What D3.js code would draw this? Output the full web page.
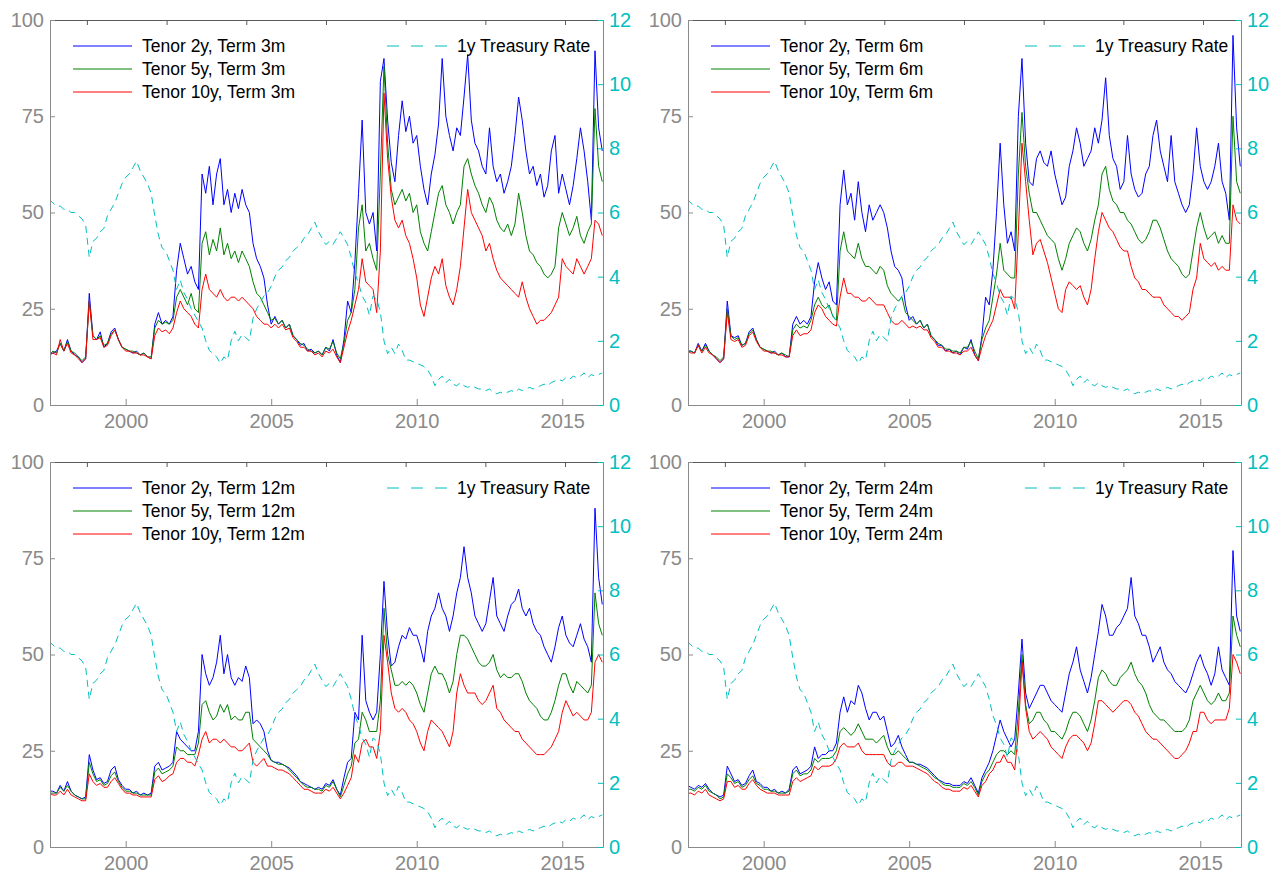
<!DOCTYPE html>
<html>
<head>
<meta charset="utf-8">
<script src="https://cdn.jsdelivr.net/npm/d3@7"></script>
<style>
  body { margin: 0; background: #fff; }
  svg text { font-family: "Liberation Sans", Arial, sans-serif; }
</style>
</head>
<body>
<svg id="chart" width="1272" height="873"></svg>
<script>
// sample dates (decimal years)
const dates = [
  1997.375, 1997.5, 1997.625, 1997.75, 1997.875,
  1998, 1998.125, 1998.25, 1998.375, 1998.5, 1998.625, 1998.75, 1998.875,
  1999, 1999.125, 1999.25, 1999.375, 1999.5, 1999.625, 1999.75, 1999.875,
  2000, 2000.125, 2000.25, 2000.375, 2000.5, 2000.625, 2000.75, 2000.875,
  2001, 2001.125, 2001.25, 2001.375, 2001.5, 2001.625, 2001.75, 2001.875,
  2002, 2002.125, 2002.25, 2002.375, 2002.5, 2002.625, 2002.75, 2002.875,
  2003, 2003.125, 2003.25, 2003.375, 2003.5, 2003.625, 2003.75, 2003.875,
  2004, 2004.125, 2004.25, 2004.375, 2004.5, 2004.625, 2004.75, 2004.875,
  2005, 2005.125, 2005.25, 2005.375, 2005.5, 2005.625, 2005.75, 2005.875,
  2006, 2006.125, 2006.25, 2006.375, 2006.5, 2006.625, 2006.75, 2006.875,
  2007, 2007.125, 2007.25, 2007.375, 2007.5, 2007.625, 2007.75, 2007.875,
  2008, 2008.125, 2008.25, 2008.375, 2008.5, 2008.625, 2008.75, 2008.875,
  2009, 2009.125, 2009.25, 2009.375, 2009.5, 2009.625, 2009.75, 2009.875,
  2010, 2010.125, 2010.25, 2010.375, 2010.5, 2010.625, 2010.75, 2010.875,
  2011, 2011.125, 2011.25, 2011.375, 2011.5, 2011.625, 2011.75, 2011.875,
  2012, 2012.125, 2012.25, 2012.375, 2012.5, 2012.625, 2012.75, 2012.875,
  2013, 2013.125, 2013.25, 2013.375, 2013.5, 2013.625, 2013.75, 2013.875,
  2014, 2014.125, 2014.25, 2014.375, 2014.5, 2014.625, 2014.75, 2014.875,
  2015, 2015.125, 2015.25, 2015.375, 2015.5, 2015.625, 2015.75, 2015.875,
  2016, 2016.125, 2016.25, 2016.375
];

// 1y treasury rate (right axis, %)
const treasury = [
  6.4, 6.3, 6.2, 6.2, 6.1,
  6.1, 6.0, 6.0, 5.9, 5.8, 5.6, 4.6, 5.1,
  5.2, 5.4, 5.5, 5.9, 6.1, 6.3, 6.6, 6.9,
  7.1, 7.2, 7.4, 7.6, 7.3, 7.1, 6.9, 6.6,
  5.9, 5.3, 4.9, 4.8, 4.5, 4.2, 3.6, 3.9,
  3.5, 3.3, 3.0, 2.8, 2.6, 2.4, 2.0, 1.7,
  1.6, 1.5, 1.3, 1.5, 1.4, 2.0, 2.3, 2.0,
  2.2, 2.1, 2.0, 2.7, 3.0, 3.2, 3.4, 3.5,
  3.7, 4.0, 4.2, 4.3, 4.5, 4.6, 4.8, 4.9,
  5.0, 5.2, 5.3, 5.5, 5.7, 5.4, 5.2, 5.0,
  5.1, 5.0, 5.2, 5.4, 5.2, 5.0, 4.6, 4.1,
  3.8, 3.4, 3.2, 2.8, 3.4, 3.3, 2.9, 2.0,
  1.6, 1.8, 1.6, 1.9, 1.7, 1.4, 1.4, 1.35,
  1.3, 1.25, 1.2, 1.1, 0.9, 0.6, 0.8, 0.9,
  0.7, 0.8, 0.65, 0.6, 0.7, 0.6, 0.55, 0.6,
  0.55, 0.5, 0.5, 0.45, 0.5, 0.4, 0.35, 0.4,
  0.35, 0.4, 0.45, 0.4, 0.5, 0.45, 0.5, 0.55,
  0.5, 0.55, 0.6, 0.65, 0.6, 0.7, 0.75, 0.8,
  0.75, 0.85, 0.8, 0.9, 0.85, 0.9, 1.0, 0.85,
  0.95, 0.9, 0.95, 1.0
];

// Term 3m
const t3Tenor2 = [
  13, 13.5, 14, 16, 14,
  17, 14, 13, 12.5, 11, 12, 29, 18,
  17, 19, 15, 16, 19, 20, 17, 15,
  14.5, 14, 13.5, 14, 13, 13.5, 12.5, 12,
  21, 24, 21, 22, 21, 23, 35, 42,
  38, 34, 36, 32, 30, 60, 55, 62,
  52, 60, 64, 52, 56, 50, 55, 51,
  56, 52, 50, 42, 38, 36, 33, 26,
  21, 23, 21, 22, 20, 21, 18, 17,
  15.5, 16, 14, 14.5, 13.5, 14, 13, 15,
  14, 17, 13, 11, 17, 27, 24, 37,
  55, 74, 50, 47, 50, 40, 84, 90,
  74, 63, 58, 70, 79, 71, 75, 68,
  70, 62, 56, 52, 60, 65, 73, 90,
  75, 70, 66, 72, 70, 80, 91, 74,
  68, 66, 62, 60, 72, 62, 58, 60,
  55, 58, 62, 70, 80, 74, 66, 60,
  62, 57, 60, 54, 57, 66, 70, 55,
  60, 56, 52, 57, 64, 72, 66, 58,
  48, 92, 72, 66
];
const t3Tenor5 = [
  13, 14, 13.5, 16, 14,
  16.5, 14, 13.5, 12.5, 11.5, 12.5, 27, 18,
  17, 18, 15.5, 16, 18.5, 19.5, 17, 15,
  14.5, 14, 14, 13.5, 13, 13.5, 12.5, 12.5,
  20, 22, 21, 21.5, 21, 22, 28, 30,
  28, 26, 29, 25, 24, 42, 45, 39,
  43, 40, 46, 39, 42, 38, 40, 37,
  40, 38, 36, 32, 29, 28, 26, 24,
  22, 22.5, 21, 22, 20, 21, 18, 17,
  16, 15.5, 14.5, 14, 13.5, 14, 13, 15,
  14.5, 16.5, 13.5, 12, 16, 22, 24, 30,
  46, 52, 40, 42, 38, 35, 60, 88,
  68, 56, 52, 54, 56, 53, 55, 50,
  52, 45, 42, 40, 45, 50, 55, 57,
  52, 50, 47, 50, 52, 62, 64, 60,
  57, 55, 52, 50, 54, 52, 48, 46,
  45, 47, 44, 47, 55, 50, 44, 40,
  39, 37, 36, 34, 33, 34, 36, 46,
  50, 47, 44, 46, 49, 44, 42, 45,
  47, 77, 62, 58
];
const t3Tenor10 = [
  13, 13.5, 13, 17, 14,
  16, 13.5, 13, 12, 11, 12, 27, 17,
  17, 17.5, 15, 15.5, 18, 19.5, 17, 15,
  14, 14, 13.5, 13.5, 13, 13, 12.5, 12,
  18, 20, 19, 19.5, 18.5, 20, 24, 27,
  25, 24, 23, 21, 20, 30, 34, 30,
  29, 28, 30, 28, 27, 28, 28, 27,
  28, 27, 26, 25, 23, 22, 21, 21,
  20, 21, 20, 21, 19.5, 20, 17.5, 16.5,
  15, 15, 14, 14, 13, 13.5, 12.5, 14,
  13.5, 14.5, 12.5, 11, 15, 19, 22, 26,
  30, 38, 32, 31, 30, 24, 40, 81,
  64, 54, 48, 46, 48, 44, 42, 38,
  33, 26, 23, 28, 33, 36, 34, 38,
  31, 28, 26, 30, 36, 46, 56, 50,
  48, 46, 44, 40, 42, 38, 35, 33,
  32, 31, 30, 29, 28, 32, 28, 25,
  23, 21, 22, 22, 23, 24, 26, 28,
  38, 36, 35, 34, 38, 36, 34, 36,
  38, 48, 47, 44
];

// Term 6m
const t6Tenor2 = [
  14, 14, 13.5, 16, 14,
  16, 14, 13, 12, 11, 12, 27, 18,
  17.5, 18, 15.5, 16, 19, 20, 17, 15,
  14.5, 14, 13.5, 14, 13, 13.5, 12.5, 12.5,
  21, 23, 21, 22, 21, 23, 32, 37,
  33, 30, 32, 27, 26, 52, 61, 52,
  55, 48, 58, 50, 45, 52, 48, 50,
  52, 50, 46, 40, 36, 35, 33, 26,
  22, 23, 21, 22, 20, 21, 18, 17,
  15.5, 15.5, 14, 14.5, 13.5, 14, 13, 15,
  14.5, 17, 13, 11.5, 18, 28, 26, 35,
  50, 68, 52, 42, 45, 40, 75, 90,
  68, 58, 57, 64, 66, 63, 62, 66,
  60, 56, 52, 54, 62, 66, 72, 68,
  62, 64, 66, 72, 68, 74, 85, 70,
  64, 62, 56, 58, 70, 60, 56, 54,
  55, 60, 62, 70, 74, 66, 62, 58,
  70, 58, 55, 52, 50, 52, 60, 72,
  62, 58, 56, 58, 62, 68, 58, 55,
  48, 96, 72, 62
];
const t6Tenor5 = [
  14, 14, 13.5, 15.5, 14,
  15.5, 14, 13, 12.5, 11.5, 12.5, 25, 18,
  17, 17.5, 15.5, 16, 18.5, 19.5, 17, 15,
  14.5, 14, 14, 13.5, 13, 13.5, 13, 12.5,
  19.5, 21, 20, 20.5, 20, 22, 26, 28,
  26, 25, 26, 23, 22, 40, 45, 40,
  39, 38, 42, 38, 36, 36, 35, 34,
  36, 35, 31, 29, 28, 27, 28, 24,
  23, 22, 21, 22, 20, 21, 18, 17,
  16, 15.5, 14.5, 14.5, 14, 14, 13.5, 15,
  15, 16.5, 14, 12, 17, 20, 22, 28,
  34, 42, 35, 34, 33, 33, 60, 76,
  62, 55, 50, 50, 48, 46, 44, 43,
  42, 38, 35, 38, 42, 44, 46, 45,
  42, 40, 43, 48, 52, 60, 62, 56,
  53, 52, 50, 50, 48, 47, 45, 43,
  42, 43, 45, 48, 48, 46, 43, 40,
  38, 37, 36, 34, 33, 34, 40, 46,
  50, 46, 43, 44, 45, 42, 44, 42,
  42, 75, 58, 55
];
const t6Tenor10 = [
  14, 13.5, 13.5, 15.5, 13.5,
  15, 13.5, 13, 12, 11, 12, 24, 17,
  16.5, 17, 15, 15.5, 18, 19, 16.5, 15,
  14, 14, 13.5, 13.5, 13, 13, 12.5, 12.5,
  18, 19.5, 18, 18.5, 18.5, 19.5, 24, 26,
  25, 23, 22, 21, 20.5, 28, 33, 29,
  29, 28, 28, 27, 27, 28, 27, 26,
  26, 26, 24, 22, 21, 21, 22, 21,
  20, 20.5, 20, 20.5, 19.5, 19.5, 17.5, 16.5,
  15, 15, 14, 14, 13.5, 13.5, 13, 14,
  14, 15, 13, 11.5, 15, 18, 20, 22,
  26, 30, 28, 28, 28, 25, 45, 68,
  58, 48, 39, 42, 43, 40, 37, 33,
  29, 25, 24, 30, 32, 31, 30, 31,
  28, 26, 30, 38, 45, 50, 48, 46,
  45, 43, 41, 40, 40, 36, 33, 32,
  30, 30, 29, 28, 28, 28, 26, 25,
  24, 23, 23, 22, 23, 24, 30, 33,
  42, 38, 37, 36, 37, 35, 36, 35,
  35, 52, 48, 47
];

// Term 12m
const t12Tenor2 = [
  14.5, 14.5, 14, 16, 14.5,
  17, 14.5, 13.5, 13, 12.5, 13, 24, 20,
  17.5, 18, 16.5, 17, 20, 21, 17.5, 16,
  15, 15, 14, 14.5, 13.5, 14, 13.5, 14,
  21, 22, 20, 20.5, 21, 22, 30, 28,
  27, 26, 25, 25, 30, 50, 45, 42,
  44, 48, 55, 45, 50, 44, 42, 44,
  43, 47, 44, 32, 33, 32, 30, 25,
  22.5, 22, 22, 21.5, 21, 20.5, 19.5, 18.5,
  17, 16.5, 16, 15.5, 15, 15.5, 15, 16.5,
  16, 17.5, 15, 13.5, 18, 22, 23, 35,
  33, 55, 38, 35, 33, 35, 50, 69,
  55, 47, 48, 52, 55, 54, 57, 55,
  55, 52, 48, 56, 60, 62, 66, 62,
  60, 56, 60, 66, 70, 78, 70, 66,
  60, 58, 56, 58, 64, 70, 60, 58,
  56, 60, 63, 64, 67, 62, 60, 62,
  58, 56, 55, 52, 50, 48, 52, 57,
  60, 55, 53, 52, 55, 58, 54, 52,
  48, 88, 70, 63
];
const t12Tenor5 = [
  14, 14, 14, 15.5, 14.5,
  16, 14.5, 13.5, 13, 12.5, 12.5, 22, 19,
  17, 17.5, 16, 16.5, 18.5, 19.5, 17, 15.5,
  14.5, 14.5, 14, 14, 13.5, 13.5, 13.5, 13.5,
  19.5, 20.5, 19, 19.5, 20, 21, 26, 25,
  25, 24, 24, 24, 27, 37, 38, 35,
  33, 34, 37, 35, 37, 33, 34, 33,
  33, 35, 35, 28, 27, 26, 25, 24,
  22.5, 22, 21.5, 21.5, 21, 20, 19, 18,
  17, 16, 15.5, 15.5, 15, 15, 14.5, 16,
  15.5, 17, 15, 13, 16, 19, 21, 27,
  28, 35, 33, 30, 30, 30, 38, 62,
  50, 46, 42, 42, 43, 42, 43, 42,
  40, 37, 35, 40, 45, 47, 45, 45,
  43, 40, 43, 50, 55, 55, 54, 52,
  50, 48, 47, 47, 48, 50, 46, 44,
  45, 44, 44, 45, 45, 43, 40, 38,
  37, 36, 34, 33, 33, 35, 38, 42,
  45, 45, 42, 40, 43, 42, 41, 40,
  42, 66, 58, 55
];
const t12Tenor10 = [
  14, 13.5, 13.5, 14.5, 13.5,
  15, 13.5, 13, 12.5, 12, 12, 19, 17,
  16, 16.5, 15.5, 15.5, 17, 18, 16.5, 15,
  14, 14, 13.5, 13.5, 13, 13, 13, 13,
  17.5, 18.5, 17, 17.5, 18.5, 19, 22, 23,
  23, 22, 22, 21, 24, 28, 30, 27,
  28, 28, 27, 28, 27, 26, 26, 25,
  25, 26, 27, 22, 21, 22, 23, 21,
  21, 20.5, 20, 20, 19.5, 19, 18, 17,
  16, 15, 15, 14.5, 14, 14, 14, 15,
  14.5, 15.5, 14, 12.5, 14, 16, 18, 24,
  22, 27, 28, 26, 26, 23, 30, 55,
  48, 40, 36, 35, 36, 35, 33, 32,
  30, 27, 25, 30, 33, 32, 31, 30,
  28, 26, 30, 40, 45, 42, 40, 40,
  40, 38, 37, 38, 40, 42, 36, 35,
  33, 32, 31, 30, 30, 28, 27, 26,
  25, 24, 24, 24, 25, 26, 28, 30,
  35, 38, 36, 34, 35, 34, 33, 33,
  35, 48, 50, 48
];

// Term 24m
const t24Tenor2 = [
  16, 15.5, 15, 16, 15.5,
  16.5, 15, 14, 13.5, 13, 13.5, 21, 19,
  17, 17.5, 16, 16.5, 18.5, 20, 17, 16.5,
  15.5, 15.5, 14.5, 15, 14, 14.5, 14, 15,
  20, 21, 19, 19.5, 20, 21, 26, 23,
  24, 24, 25, 25, 27, 35, 39, 35,
  38, 37, 42, 40, 36, 33, 35, 35,
  33, 34, 30, 26, 27, 29, 26, 24,
  22, 22, 21.5, 21.5, 21, 20.5, 19.5, 18.5,
  17.5, 17, 16.5, 16.5, 16, 16, 16, 17,
  16.5, 18, 16, 14, 18, 20, 22, 25,
  29, 33, 30, 28, 26, 28, 40, 54,
  40, 36, 38, 40, 42, 42, 40, 38,
  37, 36, 35, 40, 45, 48, 52, 46,
  43, 40, 44, 50, 56, 63, 60, 55,
  55, 57, 58, 60, 62, 70, 60, 58,
  55, 55, 52, 48, 50, 52, 48, 46,
  45, 43, 42, 41, 40, 42, 45, 48,
  50, 47, 45, 42, 45, 52, 46, 44,
  42, 77, 60, 56
];
const t24Tenor5 = [
  15, 15, 14.5, 15.5, 15,
  16, 14.5, 14, 13.5, 12.5, 13, 19, 18,
  16.5, 17, 15.5, 16, 17.5, 18.5, 16.5, 16,
  15, 15, 14.5, 14.5, 14, 14, 14, 14.5,
  19, 20, 18.5, 19, 19, 20, 23, 22,
  23, 23, 23, 23.5, 25, 30, 31, 30,
  29, 30, 32, 30, 28, 28, 28, 27,
  28, 29, 26, 24, 24, 25, 24, 23,
  22, 22, 21.5, 21, 20.5, 20, 19, 18,
  17.5, 16.5, 16, 16, 15.5, 15.5, 15.5, 16.5,
  16, 17, 15.5, 13.5, 17, 19, 20, 22,
  24, 25, 25, 24, 25, 24, 35, 50,
  37, 32, 33, 35, 35, 33, 32, 30,
  30, 29, 28, 30, 33, 35, 35, 34,
  32, 30, 33, 38, 44, 46, 45, 43,
  42, 42, 44, 45, 46, 48, 45, 43,
  42, 40, 37, 35, 34, 33, 33, 32,
  31, 30, 30, 30, 31, 33, 38, 40,
  42, 40, 38, 37, 38, 40, 38, 38,
  40, 60, 55, 52
];
const t24Tenor10 = [
  14, 14, 13.5, 14.5, 14,
  15, 13.5, 13, 12.5, 12, 12.5, 17, 17,
  15.5, 16, 15, 15, 16.5, 17.5, 16, 15,
  14.5, 14, 14, 14, 13.5, 13.5, 13.5, 13.5,
  17, 18, 17, 17.5, 18, 18.5, 21, 20,
  21, 21, 21, 21.5, 23, 26, 27, 26,
  26, 26, 27, 25, 24, 24, 24, 24,
  24, 24, 22, 21, 21, 22, 22, 21,
  21, 21, 20.5, 20, 19.5, 19, 18, 17,
  16.5, 15.5, 15, 15, 14.5, 14.5, 14.5, 15.5,
  15, 16, 14.5, 13, 16, 17, 19, 20,
  22, 22, 24, 22, 22, 20, 30, 48,
  36, 30, 28, 29, 30, 29, 28, 26,
  25, 24, 23, 26, 28, 29, 29, 28,
  27, 25, 27, 32, 38, 38, 37, 36,
  35, 36, 37, 38, 38, 37, 35, 34,
  32, 30, 29, 28, 28, 27, 26, 25,
  24, 23, 23, 24, 25, 27, 30, 30,
  35, 35, 33, 32, 33, 33, 33, 33,
  36, 50, 48, 45
];

const terms = ["3m", "6m", "12m", "24m"];
const tenors = ["2y", "5y", "10y"];
const panelSeries = [
  [t3Tenor2, t3Tenor5, t3Tenor10],
  [t6Tenor2, t6Tenor5, t6Tenor10],
  [t12Tenor2, t12Tenor5, t12Tenor10],
  [t24Tenor2, t24Tenor5, t24Tenor10]
];
const leftTicks = [0, 25, 50, 75, 100];
const rightTicks = [0, 2, 4, 6, 8, 10, 12];
const yearTicks = [2000, 2005, 2010, 2015];
// second axes uses day-number ticks, every 1000 days
const topTicks = [1998.668, 2001.406, 2004.144, 2006.882, 2009.62, 2012.358, 2015.096];

const seriesColors = ["#0000ff", "#008000", "#ff0000"];
const cyan = "#00bfbf";
const axisGray = "#8a8a8a";

let width = 553;
let height = 385;
let origins = [[50, 20], [688, 20], [50, 462], [688, 462]];

let xScale = d3.scaleLinear().domain([1997.4, 2016.4]).range([0, width]);
let yLeft = d3.scaleLinear().domain([0, 100]).range([height, 0]);
let yRight = d3.scaleLinear().domain([0, 12]).range([height, 0]);

let svg = d3.select("#chart");

let lineLeft = d3.line()
  .x((d, i) => xScale(dates[i]))
  .y(d => yLeft(d));
let lineRight = d3.line()
  .x((d, i) => xScale(dates[i]))
  .y(d => yRight(d));

function styleAxis(g, color) {
  g.selectAll(".domain").attr("stroke", color);
  g.selectAll(".tick line").attr("stroke", color);
  g.selectAll(".tick text")
    .attr("fill", color)
    .style("font-size", "20px")
    .style("font-family", "'Liberation Sans', Arial, sans-serif");
}

terms.forEach((term, p) => {
  let [ox, oy] = origins[p];
  let g = svg.append("g").attr("transform", `translate(${ox}, ${oy})`);

  g.append("clipPath").attr("id", "clip" + p)
    .append("rect").attr("width", width).attr("height", height);

  /* Data lines */
  let plot = g.append("g").attr("clip-path", `url(#clip${p})`);
  panelSeries[p].forEach((vals, s) => {
    plot.append("path")
      .attr("d", lineLeft(vals))
      .attr("fill", "none")
      .attr("stroke", seriesColors[s])
      .attr("stroke-width", 1)
      .attr("stroke-linejoin", "round");
  });
  plot.append("path")
    .attr("d", lineRight(treasury))
    .attr("fill", "none")
    .attr("stroke", cyan)
    .attr("stroke-width", 1)
    .attr("stroke-dasharray", "7,5");

  /* Axes */
  let top = g.append("g")
    .call(d3.axisTop(xScale).tickValues(topTicks).tickSizeInner(-5).tickSizeOuter(0).tickFormat(""));
  styleAxis(top, "#5a5a5a");

  let bottom = g.append("g")
    .attr("transform", `translate(0, ${height})`)
    .call(d3.axisBottom(xScale).tickValues(yearTicks).tickSizeInner(-6).tickSizeOuter(0)
      .tickPadding(9).tickFormat(d3.format("d")));
  styleAxis(bottom, axisGray);

  let left = g.append("g")
    .call(d3.axisLeft(yLeft).tickValues(leftTicks).tickSizeInner(-5).tickSizeOuter(0).tickPadding(6));
  styleAxis(left, axisGray);

  let right = g.append("g")
    .attr("transform", `translate(${width}, 0)`)
    .call(d3.axisRight(yRight).tickValues(rightTicks).tickSizeInner(-5).tickSizeOuter(0).tickPadding(6));
  styleAxis(right, cyan);

  /* Legends */
  let legend = g.append("g");
  tenors.forEach((tenor, s) => {
    let ly = 26 + s * 23;
    legend.append("line")
      .attr("x1", 23).attr("x2", 82).attr("y1", ly).attr("y2", ly)
      .attr("stroke", seriesColors[s]).attr("stroke-width", 1);
    legend.append("text")
      .attr("x", 92).attr("y", ly).attr("dy", "0.35em")
      .style("font-size", "17.5px").attr("fill", "#000")
      .text(`Tenor ${tenor}, Term ${term}`);
  });
  legend.append("line")
    .attr("x1", 337).attr("x2", 398).attr("y1", 26).attr("y2", 26)
    .attr("stroke", cyan).attr("stroke-width", 1).attr("stroke-dasharray", "12,12");
  legend.append("text")
    .attr("x", 407).attr("y", 26).attr("dy", "0.35em")
    .style("font-size", "17.5px").attr("fill", "#000")
    .text("1y Treasury Rate");
});
</script>
</body>
</html>
